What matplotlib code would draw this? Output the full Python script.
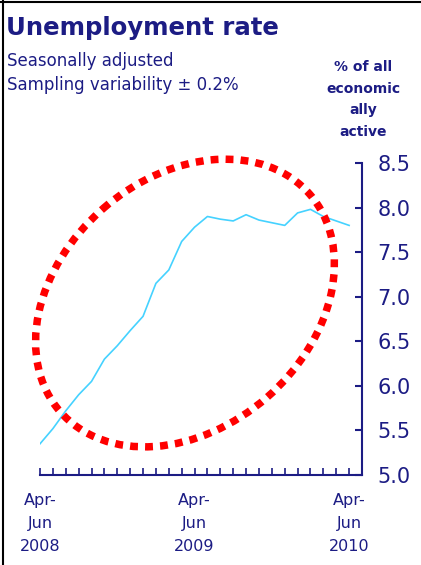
import matplotlib
matplotlib.use("Agg")
import matplotlib.pyplot as plt
from matplotlib.patches import Ellipse
import numpy as np

# rolling three-month unemployment rate, Apr-Jun 2008 .. Apr-Jun 2010
periods = ["Apr-Jun 2008", "May-Jul 2008", "Jun-Aug 2008", "Jul-Sep 2008",
           "Aug-Oct 2008", "Sep-Nov 2008", "Oct-Dec 2008", "Nov-Jan 2009",
           "Dec-Feb 2009", "Jan-Mar 2009", "Feb-Apr 2009", "Mar-May 2009",
           "Apr-Jun 2009", "May-Jul 2009", "Jun-Aug 2009", "Jul-Sep 2009",
           "Aug-Oct 2009", "Sep-Nov 2009", "Oct-Dec 2009", "Nov-Jan 2010",
           "Dec-Feb 2010", "Jan-Mar 2010", "Feb-Apr 2010", "Mar-May 2010",
           "Apr-Jun 2010"]
rate = [5.35, 5.52, 5.72, 5.90, 6.05, 6.30, 6.45, 6.62, 6.78, 7.15,
        7.30, 7.62, 7.78, 7.90, 7.87, 7.85, 7.92, 7.86, 7.83, 7.80,
        7.94, 7.98, 7.90, 7.85, 7.80]
tick_labels = ["Apr-\nJun\n2008", "Apr-\nJun\n2009", "Apr-\nJun\n2010"]
label_idx = [0, 12, 24]
y_ticks = [5.0, 5.5, 6.0, 6.5, 7.0, 7.5, 8.0, 8.5]

navy = "#1c1c84"
cyan = "#45d2ff"

fig = plt.figure(figsize=(4.21, 5.65), dpi=100)
fig.patch.set_facecolor("white")

ax = fig.add_axes([40 / 421, 90 / 565, 322 / 421, 312 / 565])
x = np.arange(len(rate))
ax.plot(x, rate, color=cyan, lw=1.2, solid_joinstyle="round")

ax.set_xlim(0, 25)
ax.set_ylim(5.0, 8.5)
for s in ["top", "left"]:
    ax.spines[s].set_visible(False)
for s in ["right", "bottom"]:
    ax.spines[s].set_color(navy)
    ax.spines[s].set_linewidth(1.5)

ax.yaxis.tick_right()
ax.set_yticks(y_ticks)
ax.set_yticklabels([f"{v:.1f}" for v in y_ticks])
ax.tick_params(axis="y", direction="in", length=5, width=1.5, color=navy,
               labelcolor=navy, labelsize=15, pad=11)

ax.set_xticks(np.arange(0, 26))
ax.set_xticklabels([tick_labels[label_idx.index(i)] if i in label_idx else ""
                    for i in range(26)])
ax.tick_params(axis="x", direction="in", length=5, width=1.2, color=navy,
               labelcolor=navy, labelsize=11.5, pad=13)
for t in ax.get_xticklabels():
    t.set_linespacing(1.65)

# titles
fig.text(6 / 421, 1 - 35 / 565, "Unemployment rate", color=navy,
         fontsize=17.6, fontweight="bold", ha="left", va="baseline")
fig.text(7 / 421, 1 - 66 / 565, "Seasonally adjusted", color=navy,
         fontsize=12, ha="left", va="baseline")
fig.text(7 / 421, 1 - 90 / 565, "Sampling variability \u00b1 0.2%", color=navy,
         fontsize=12, ha="left", va="baseline")
fig.text(363 / 421, 1 - 60 / 565, "% of all\neconomic\nally\nactive",
         color=navy, fontsize=10, fontweight="bold", ha="center", va="top",
         linespacing=1.7)

# overlay in pixel space: red dotted ellipse and crop border
ov = fig.add_axes([0, 0, 1, 1], zorder=5)
ov.set_xlim(0, 421)
ov.set_ylim(565, 0)
ov.axis("off")
ov.patch.set_alpha(0)
ell = Ellipse((185, 303), width=331, height=250, angle=-41, fill=False,
              edgecolor="#ff0000", lw=5.4, linestyle=(0, (1.05, 0.95)))
ell.set_capstyle("butt")
ov.add_patch(ell)
ov.plot([2.5, 2.5], [0, 565], color="black", lw=1.5)
ov.plot([0, 421], [1.5, 1.5], color="black", lw=1.5)

fig.savefig("out.png", dpi=100)
